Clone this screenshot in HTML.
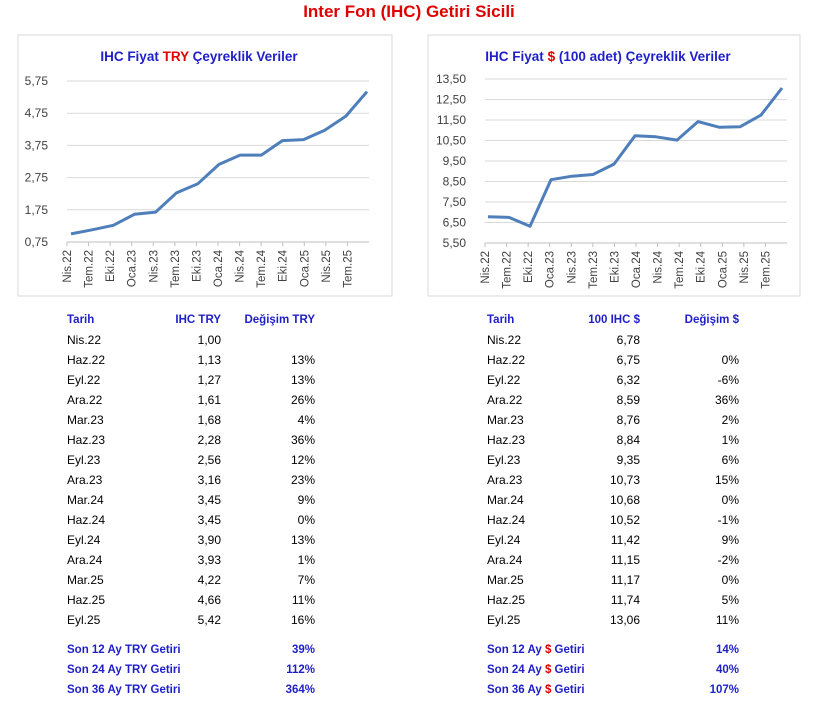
<!DOCTYPE html>
<html><head><meta charset="utf-8">
<style>
body{margin:0;background:#fff;width:818px;height:706px;position:relative;overflow:hidden;font-family:"Liberation Sans",sans-serif;}
.t{position:absolute;font-size:12px;color:#000;line-height:20px;white-space:nowrap;}
.h{font-weight:bold;color:#1f1fc8;font-size:11.5px;}
.r{text-align:right;}
.red{color:#e00000;}
svg{position:absolute;left:0;top:0;}
</style></head><body>
<div style="position:absolute;left:0;width:818px;top:2px;text-align:center;color:#e00000;font-weight:bold;font-size:17px;">Inter Fon (IHC) Getiri Sicili</div>
<svg id="chart" width="818" height="706"></svg>
<div id="tables"></div>
<script>
const months=["Nis.22","Haz.22","Eyl.22","Ara.22","Mar.23","Haz.23","Eyl.23","Ara.23","Mar.24","Haz.24","Eyl.24","Ara.24","Mar.25","Haz.25","Eyl.25"];
const tryVals=[1.00,1.13,1.27,1.61,1.68,2.28,2.56,3.16,3.45,3.45,3.90,3.93,4.22,4.66,5.42];
const tryChg=["","13%","13%","26%","4%","36%","12%","23%","9%","0%","13%","1%","7%","11%","16%"];
const usdVals=[6.78,6.75,6.32,8.59,8.76,8.84,9.35,10.73,10.68,10.52,11.42,11.15,11.17,11.74,13.06];
const usdChg=["","0%","-6%","36%","2%","1%","6%","15%","0%","-1%","9%","-2%","0%","5%","11%"];
const axisLabels=["Nis.22","Tem.22","Eki.22","Oca.23","Nis.23","Tem.23","Eki.23","Oca.24","Nis.24","Tem.24","Eki.24","Oca.25","Nis.25","Tem.25"];
const tryTicks=[0.75,1.75,2.75,3.75,4.75,5.75];
const usdTicks=[5.50,6.50,7.50,8.50,9.50,10.50,11.50,12.50,13.50];
const trySummary=[["Son 12 Ay TRY Getiri","39%"],["Son 24 Ay TRY Getiri","112%"],["Son 36 Ay TRY Getiri","364%"]];
const usdSummary=[["12","14%"],["24","40%"],["36","107%"]];

const NS="http://www.w3.org/2000/svg";
const svg=document.getElementById('chart');
function mk(tag,attrs,parent){const e=document.createElementNS(NS,tag);for(const k in attrs)e.setAttribute(k,attrs[k]);(parent||svg).appendChild(e);return e;}
function fmt(v){return v.toFixed(2).replace('.',',');}

function drawChart(o){
  const g=mk('g',{});
  
  
  const box=mk('rect',{x:o.bx,y:35,width:o.bw,height:261,fill:'#fff',stroke:'#d9d9d9'},g);
  
  
  const title=mk('text',{x:o.bx+o.bw/2-6,y:61,'text-anchor':'middle','font-size':'13.5','font-weight':'bold',fill:'#1f1fc8'},g);
  
  
  title.innerHTML=o.title;
  const ymin=o.ticks[0],ymax=o.ticks[o.ticks.length-1];
  const y=v=>o.y0-(v-ymin)/(ymax-ymin)*(o.y0-o.y1);
  o.ticks.forEach(t=>{
    const gl=mk('line',{x1:o.px0,x2:o.px1,y1:y(t),y2:y(t),stroke:t===ymin?'#bfbfbf':'#d9d9d9','stroke-width':1},g);
    
    
    const tl=mk('text',{x:o.px0-19,y:y(t)+4,'text-anchor':'end','font-size':'12',fill:'#404040'},g);
    
    
    tl.textContent=fmt(t);
  });
  const step=(o.px1-o.px0)/14;
  axisLabels.forEach((l,i)=>{
    const tx=o.px0+i*step;
    const tk=mk('line',{x1:tx,x2:tx,y1:o.y0,y2:o.y0+4,stroke:'#bfbfbf'},g);
    
    
    const xl=mk('text',{x:0,y:0,'text-anchor':'end','font-size':'11.5',fill:'#404040',transform:`translate(${tx+4},${o.y0+8}) rotate(-90)`},g);
    
    
    xl.textContent=l;
  });
  const lx0=o.lx0,lx1=o.lx1;
  const x=i=>lx0+i*(lx1-lx0)/(o.vals.length-1);
  const pts=o.vals.map((v,i)=>x(i).toFixed(1)+','+y(v).toFixed(1)).join(' ');
  const pl=mk('polyline',{points:pts,fill:'none',stroke:'#4f7fba','stroke-width':3,'stroke-linejoin':'round'},g);
  
  
}
drawChart({name:'try-chart',bx:18,bw:374,title:'IHC Fiyat <tspan fill="#e00000">TRY</tspan> Çeyreklik Veriler',ticks:tryTicks,vals:tryVals,px0:67,px1:369,y0:242,y1:81,lx0:71,lx1:367});
drawChart({name:'usd-chart',bx:428,bw:372,title:'IHC Fiyat <tspan fill="#e00000">$</tspan> (100 adet) Çeyreklik Veriler',ticks:usdTicks,vals:usdVals,px0:485,px1:787,y0:243,y1:79,lx0:488,lx1:782});

const T=document.getElementById('tables');
function cell(html,left,top,w,cls,name){
  const d=document.createElement('div');
  d.className='t '+(cls||'');
  d.style.left=left+'px';d.style.top=top+'px';
  if(w){d.style.width=w+'px';}
  d.innerHTML=html;
  
  
  T.appendChild(d);
}
function table(o){
  cell('Tarih',o.c0,310,null,'h','date-header');
  cell(o.h1,o.r1-100,310,100,'h r','price-header');
  cell(o.h2,o.r2-100,310,100,'h r','change-header');
  months.forEach((m,i)=>{
    const top=330+i*20;
    cell(m,o.c0,top,null,'','date-cell');
    cell(fmt(o.vals[i]),o.r1-80,top,80,'r','price-cell');
    cell(o.chg[i],o.r2-80,top,80,'r','change-cell');
  });
  o.sum.forEach((s,i)=>{
    const top=640+i*20;
    cell(s[0],o.c0,top,null,'h','summary-label');
    cell(s[1],o.r2-80,top,80,'h r','summary-value');
  });
}
table({c0:67,r1:221,r2:315,h1:'IHC TRY',h2:'Değişim TRY',vals:tryVals,chg:tryChg,sum:trySummary});
table({c0:487,r1:640,r2:739,h1:'100 IHC $',h2:'Değişim $',vals:usdVals,chg:usdChg,sum:usdSummary.map(s=>['Son '+s[0]+' Ay <span class="red">$</span> Getiri',s[1]])});
</script>
</body></html>
